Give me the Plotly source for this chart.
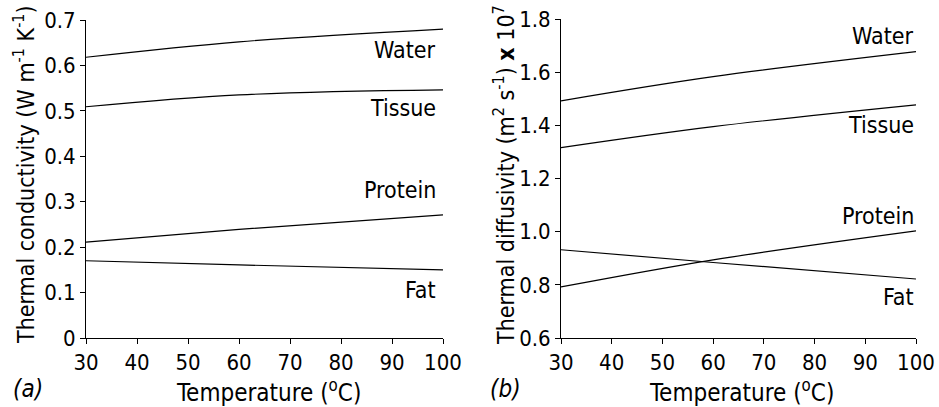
import plotly.graph_objects as go

# ---- data ----
temp = [30, 60, 100]

k_water = [0.618, 0.652, 0.680]
k_tissue = [0.509, 0.535, 0.546]
k_protein = [0.211, 0.239, 0.271]
k_fat = [0.170, 0.161, 0.150]

a_water = [1.492, 1.583, 1.677]
a_tissue = [1.316, 1.395, 1.477]
a_protein = [0.792, 0.894, 1.003]
a_fat = [0.932, 0.884, 0.822]

names = ["Water", "Tissue", "Protein", "Fat"]
label_y_k = [0.634, 0.506, 0.326, 0.106]
label_y_a = [1.736, 1.402, 1.060, 0.756]

x_ticks = [30, 40, 50, 60, 70, 80, 90, 100]
k_ticks = [0, 0.1, 0.2, 0.3, 0.4, 0.5, 0.6, 0.7]
k_ticktext = ["0", "0.1", "0.2", "0.3", "0.4", "0.5", "0.6", "0.7"]
a_ticks = [0.6, 0.8, 1.0, 1.2, 1.4, 1.6, 1.8]
a_ticktext = ["0.6", "0.8", "1.0", "1.2", "1.4", "1.6", "1.8"]

FONT = "DejaVu Sans Condensed, Liberation Sans Narrow, Roboto, sans-serif"
W, H = 939, 407

fig = go.Figure()
for ys in [k_water, k_tissue, k_protein, k_fat]:
    fig.add_trace(go.Scatter(x=temp, y=ys, mode="lines", line=dict(color="black", width=1.2, shape="spline"),
                             xaxis="x", yaxis="y", showlegend=False, hoverinfo="skip"))
for ys in [a_water, a_tissue, a_protein, a_fat]:
    fig.add_trace(go.Scatter(x=temp, y=ys, mode="lines", line=dict(color="black", width=1.2, shape="spline"),
                             xaxis="x2", yaxis="y2", showlegend=False, hoverinfo="skip"))

def px(x):
    return x / W

def py(y):
    return 1 - y / H

axis_common = dict(showgrid=False, zeroline=False, showline=True, linecolor="black", linewidth=1,
                   ticks="outside", ticklen=5, tickcolor="black", tickwidth=1, automargin=False,
                   tickfont=dict(family=FONT, size=22, color="black"))

fig.update_layout(
    template="none",
    width=W, height=H,
    margin=dict(l=0, r=0, t=0, b=0, pad=0),
    paper_bgcolor="white", plot_bgcolor="white",
    font=dict(family=FONT, color="black"),
    xaxis=dict(domain=[px(86), px(443)], range=[30, 100], tickvals=x_ticks, anchor="y", **axis_common),
    yaxis=dict(domain=[py(338), py(20)], range=[0, 0.7], tickvals=k_ticks, ticktext=k_ticktext,
               anchor="x", **axis_common),
    xaxis2=dict(domain=[px(561), px(916)], range=[30, 100], tickvals=x_ticks, anchor="y2", **axis_common),
    yaxis2=dict(domain=[py(338), py(19)], range=[0.6, 1.8], tickvals=a_ticks, ticktext=a_ticktext,
                anchor="x2", **axis_common),
)

ann = []
lf = dict(family=FONT, size=23, color="black")
for n, y in zip(names, label_y_k):
    ann.append(dict(x=99, y=y, xref="x", yref="y", text=n, showarrow=False, xanchor="right",
                    yanchor="middle", font=lf))
for n, y in zip(names, label_y_a):
    ann.append(dict(x=100, y=y, xref="x2", yref="y2", text=n, showarrow=False, xanchor="right",
                    yanchor="middle", font=lf))

xf = dict(family=FONT, size=24, color="black")
yf = dict(family=FONT, size=23, color="black")
ann += [
    dict(x=px(268), y=py(391), xref="paper", yref="paper", text="Temperature (<sup>o</sup>C)",
         showarrow=False, xanchor="center", yanchor="middle", font=xf),
    dict(x=px(741), y=py(391), xref="paper", yref="paper", text="Temperature (<sup>o</sup>C)",
         showarrow=False, xanchor="center", yanchor="middle", font=xf),
    dict(x=px(24), y=py(175), xref="paper", yref="paper",
         text="Thermal conductivity (W m<sup>-1</sup> K<sup>-1</sup>)", textangle=-90,
         showarrow=False, xanchor="center", yanchor="middle", font=yf),
    dict(x=px(504), y=py(175), xref="paper", yref="paper",
         text="Thermal diffusivity (m<sup>2</sup> s<sup>-1</sup>) <b>x</b> 10<sup>7</sup>", textangle=-90,
         showarrow=False, xanchor="center", yanchor="middle", font=yf),
    dict(x=px(28), y=py(389), xref="paper", yref="paper", text="<i>(a)</i>",
         showarrow=False, xanchor="center", yanchor="middle", font=xf),
    dict(x=px(506), y=py(389), xref="paper", yref="paper", text="<i>(b)</i>",
         showarrow=False, xanchor="center", yanchor="middle", font=xf),
]
fig.update_layout(annotations=ann)

fig.write_html("out.html", config={"displayModeBar": False},
               post_script="document.body.style.margin='0px';document.body.style.overflow='hidden';")
